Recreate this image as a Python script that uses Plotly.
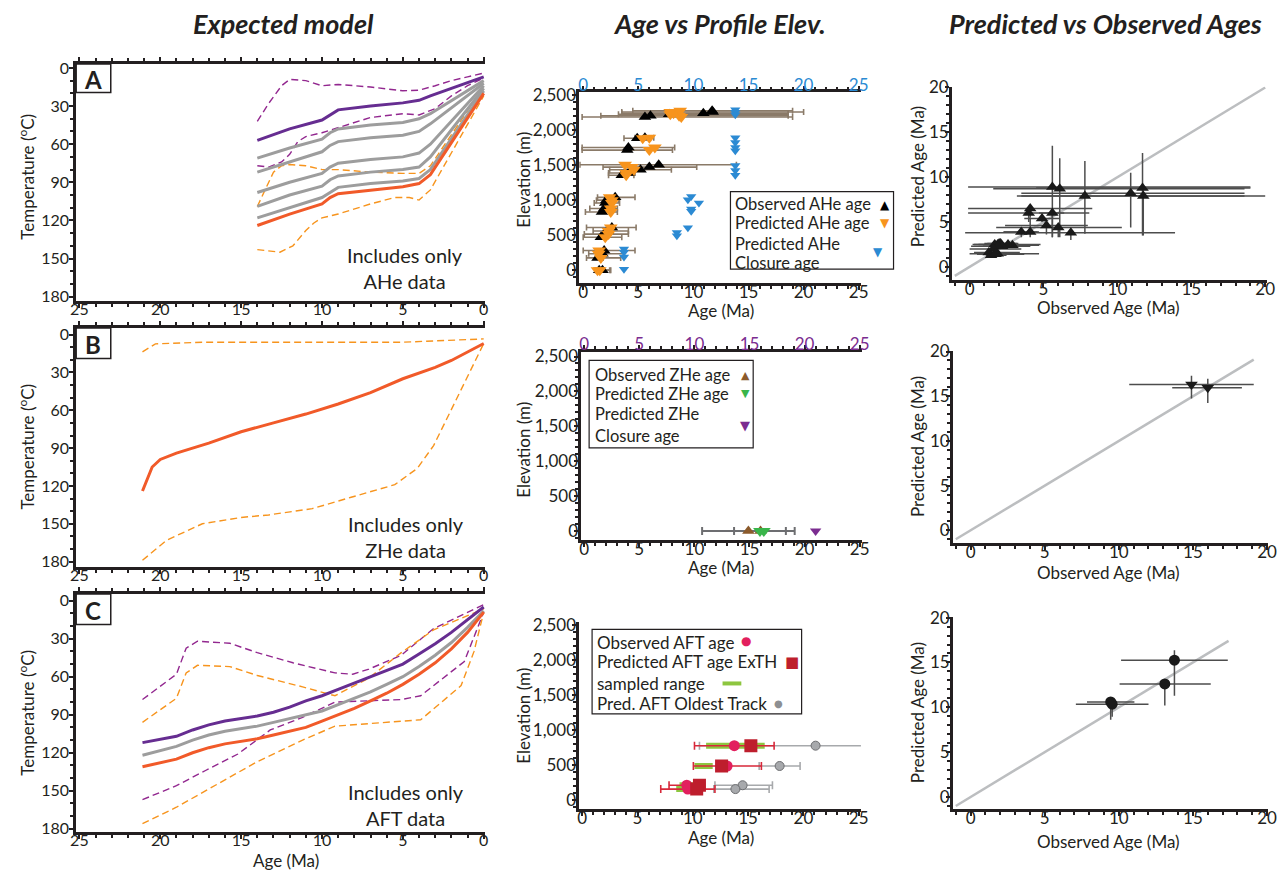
import plotly.graph_objects as go

W, H = 1287, 875
FONT = "Lato"
INK = "#231f20"

# ------------------------------------------------------------------ data
# Panel A (AHe only) thermal histories: age (Ma) -> temperature (degC)
a_age = [14, 12, 10, 9.5, 9, 7, 5, 4, 3.3, 0]
a_purple = [57, 48, 41, 37, 33, 30, 27.5, 25.5, 22, 7]
a_gray1 = [71, 63, 56, 51, 48, 45, 43, 40, 36, 10]
a_gray2 = [82, 74, 66, 61, 58, 55, 53, 50, 44, 12]
a_gray3 = [98, 90, 83, 78, 75, 72, 70, 67, 60, 14]
a_gray4 = [109, 100, 93, 88, 85, 82, 80, 78, 70, 16]
a_gray5 = [118, 110, 102, 98, 94, 91, 89, 87, 80, 18]
a_orange = [124, 115, 107, 102, 99, 96, 93.5, 91, 84, 20]
a_pdash_hi_age = [14, 13.3, 12.5, 12, 11, 10, 9, 7, 5, 4, 3, 2, 1, 0]
a_pdash_hi = [42, 28, 14, 9, 10, 14, 13, 15, 18, 17.5, 14, 10, 7, 4]
a_pdash_lo_age = [14, 13.3, 12.5, 12, 11.5, 11, 10, 9, 8, 7, 5, 4, 3, 2, 1, 0]
a_pdash_lo = [77, 78, 74, 68, 58, 54, 51, 47, 43, 39, 36, 37, 32, 22, 14, 8]
a_odash_hi_age = [14, 13.5, 13, 12.5, 12, 11, 10, 9, 7, 5, 4, 3.3, 0]
a_odash_hi = [109, 95, 82, 77, 76, 77, 80, 80, 82, 83, 83, 77, 15]
a_odash_lo_age = [14, 12.6, 11.8, 11, 10.5, 10, 9, 7, 5.5, 4.6, 4, 3.3, 0]
a_odash_lo = [143, 145, 140, 128, 122, 118, 115, 107, 102, 102, 104, 96, 22]

# Panel B (ZHe only)
b_age = [21.1, 20.5, 20, 19, 17, 15, 13, 11, 9, 7, 5, 3, 2, 1, 0]
b_orange = [124, 105, 99, 94, 86, 77, 70, 63, 55, 46, 35, 26, 20.5, 14, 7]
b_odash_hi_age = [21.1, 20.3, 17.4, 5, 0]
b_odash_hi = [13.7, 7.3, 6, 6, 3.4]
b_odash_lo_age = [21.1, 19.6, 17.4, 15, 13.3, 10.6, 8.2, 5.5, 4.1, 3.1, 2.1, 1.1, 0]
b_odash_lo = [179, 163, 150, 145, 143, 138, 129, 119, 106, 88, 62, 36, 7]

# Panel C (AFT only)
c_age = [21.1, 19, 18, 17, 16, 15, 14, 13, 12, 11, 10, 9, 8, 7, 6, 5, 4, 3, 2, 1, 0]
c_purple = [112, 107, 102, 98, 95, 93, 91, 88, 84, 79, 75, 70, 65, 60, 55, 50, 42, 34, 25, 15, 5]
c_gray = [122, 115, 110, 106, 103, 101, 99, 96, 93, 90, 87, 82, 77, 72, 66, 60, 52, 43, 33, 21, 8]
c_orange = [131, 125, 120, 116, 113, 111, 109, 106, 103, 100, 95, 90, 85, 79, 73, 66, 58, 49, 38, 25, 9]
c_pdash_hi_age = [21.1, 19, 18.4, 17.7, 15.7, 14, 11.8, 9.2, 8.1, 7.1, 5.1, 3.1, 0]
c_pdash_hi = [78, 58, 37.5, 32, 33.6, 41, 49, 57, 58, 54, 43, 22, 3]
c_pdash_lo_age = [21.1, 19, 17.2, 15.2, 13.2, 11.2, 9.2, 7.1, 5.1, 3.9, 1.2, 0]
c_pdash_lo = [157, 146, 134, 121, 102, 92, 80, 79, 78, 75, 48, 9]
c_odash_hi_age = [21.1, 19, 18.4, 17.7, 15.7, 14, 11.2, 9.2, 7.1, 5.1, 3.1, 0]
c_odash_hi = [96, 77, 57, 51, 52, 59, 68, 75, 61, 41, 23, 6.5]
c_odash_lo_age = [21.1, 19, 16.5, 14, 11.2, 9.2, 7.1, 3.9, 1.4, 0.6, 0]
c_odash_lo = [176, 163, 145, 127, 110, 99, 97, 94, 67, 40, 9]

# AHe samples
ahe_elev = [2187, 2205, 2226, 2240, 2276, 2260, 1752, 1715, 1892, 1883, 1505, 1472, 1435, 1388, 1355,
            1040, 1000, 960, 880, 830, 610, 560, 515, 470, 280, 235, 175, 0, 0]
ahe_obs = [5.6, 6.1, 7.8, 10.9, 11.7, 11.75, 4.1, 4.0, 5.6, 4.9, 6.85, 6.0, 5.2, 4.1, 3.5,
           2.9, 2.1, 2.0, 1.9, 1.7, 2.6, 2.2, 1.9, 1.6, 1.9, 1.75, 1.3, 1.45, 1.75]
ahe_obs_lo = [-0.1, 1.6, 3.2, 3.5, 4.5, 3.5, -0.1, -0.1, 4.7, 3.7, -0.3, 1.8, 2.4, 2.3, 2.3,
              1.3, 1.2, 1.0, 0.6, 0.2, 0.3, 0.9, 0.1, 0.0, 0.0, 0.5, 0.3, 1.1, 1.2]
ahe_obs_hi = [19.0, 18.6, 18.6, 18.6, 19.0, 20.0, 8.3, 8.1, 6.4, 6.1, 13.9, 10.3, 8.0, 4.7, 4.6,
              4.7, 3.2, 3.3, 3.1, 3.1, 4.8, 4.1, 4.1, 3.5, 4.7, 3.7, 3.4, 2.5, 2.4]
ahe_pred = [8.9, 8.7, 7.9, 8.2, 8.8, 7.9, 6.5, 6.0, 6.0, 5.4, 3.8, 4.4, 4.6, 3.9, 3.9,
            2.4, 2.6, 2.6, 2.5, 2.5, 2.5, 2.3, 2.3, 2.0, 1.45, 1.4, 1.6, 1.3, 1.5]
ahe_pred_lo = [3.3, 3.3, 3.7, 4.4, 3.5, 3.5, 5.5, 5.0, 3.3, 5.0, 3.0, 3.3, 3.6, 3.3, 3.3,
               2.4, 2.6, 2.6, 2.5, 2.5, 2.5, 2.3, 2.3, 2.0, 1.45, 1.4, 1.6, 1.3, 1.5]
ahe_pred_hi = [13.5, 12.1, 11.8, 10.5, 12.7, 8.5, 6.8, 6.5, 6.0, 5.8, 3.8, 4.4, 4.6, 5.5, 3.9,
               2.4, 2.6, 2.6, 2.5, 2.5, 2.5, 2.3, 2.3, 2.0, 1.45, 1.4, 1.6, 1.3, 1.5]
ahe_closure_age = [13.8, 13.8, 13.8, 13.8, 13.8, 13.8, 13.8, 13.8, 13.8, 13.8,
                   9.8, 9.5, 10.5, 9.8, 9.8, 9.5, 8.5, 8.5, 3.7, 3.7, 3.7, 3.7]
ahe_closure_elev = [2290, 2255, 2220, 1892, 1822, 1752, 1705, 1495, 1425, 1355,
                    1051, 1005, 958, 874, 841, 607, 537, 491, 304, 257, 187, 14]

# ZHe samples
zhe_elev = [0, 0]
zhe_obs = [14.9, 16.0]
zhe_obs_lo = [10.7, 13.6]
zhe_obs_hi = [19.1, 18.3]
zhe_pred = [16.3, 15.95]
zhe_pred_lo = [14.75, 14.25]
zhe_pred_hi = [17.3, 16.95]
zhe_closure_age = [21.0]
zhe_closure_elev = [0]

# AFT samples
aft_elev = [770, 480, 205, 150]
aft_obs = [13.75, 13.1, 9.45, 9.55]
aft_obs_lo = [10.15, 10.05, 7.85, 7.1]
aft_obs_hi = [17.35, 16.2, 11.05, 12.0]
aft_pred = [15.25, 12.6, 10.6, 10.35]
aft_pred_lo = [11.3, 10.2, 8.6, 8.95]
aft_pred_hi = [16.35, 12.6, 10.6, 10.35]
aft_range_lo = [11.2, 10.15, 8.8, 8.5]
aft_range_hi = [16.5, 11.8, 10.9, 10.5]
aft_oldest = [21.1, 17.85, 14.5, 13.85]
aft_oldest_lo = [10.6, 16.0, 12.0, 11.9]
aft_oldest_hi = [25.8, 19.7, 17.2, 16.9]

one_to_one_A = [-1, 20]
one_to_one_B = [-1, 19.1]
one_to_one_C = [-1, 17.4]

# ------------------------------------------------------------------ colours
PURPLE = "#662d91"
PURPLE_D = "#92278f"
GRAY = "#9d9d9d"
RED_OR = "#f15a29"
ORANGE = "#f7941d"
BLUE = "#2b8ad3"
BROWN = "#8b5a2b"
GREEN_Z = "#39b54a"
VIOLET = "#7b2c90"
CRIMSON = "#e21f5e"
DKRED = "#be1e2d"
LIME = "#8dc63f"
ERR = "#4d4d4d"

fig = go.Figure()


def line(x, y, color, width, xa, ya, dash=None):
    fig.add_trace(go.Scatter(x=x, y=y, mode="lines", xaxis=xa, yaxis=ya,
                             line=dict(color=color, width=width, dash=dash),
                             showlegend=False, hoverinfo="skip"))


DASH = "7px,4px"
# Left column
for xa, ya, curves in [
    ("x", "y", [(a_pdash_hi_age, a_pdash_hi, PURPLE_D, 1.4, DASH), (a_pdash_lo_age, a_pdash_lo, PURPLE_D, 1.4, DASH),
                (a_odash_hi_age, a_odash_hi, ORANGE, 1.4, DASH), (a_odash_lo_age, a_odash_lo, ORANGE, 1.4, DASH),
                (a_age, a_gray1, GRAY, 3, None), (a_age, a_gray2, GRAY, 3, None), (a_age, a_gray3, GRAY, 3, None),
                (a_age, a_gray4, GRAY, 3, None), (a_age, a_gray5, GRAY, 3, None),
                (a_age, a_purple, PURPLE, 3, None), (a_age, a_orange, RED_OR, 3, None)]),
    ("x2", "y2", [(b_odash_hi_age, b_odash_hi, ORANGE, 1.4, DASH), (b_odash_lo_age, b_odash_lo, ORANGE, 1.4, DASH),
                  (b_age, b_orange, RED_OR, 3, None)]),
    ("x3", "y3", [(c_pdash_hi_age, c_pdash_hi, PURPLE_D, 1.4, DASH), (c_pdash_lo_age, c_pdash_lo, PURPLE_D, 1.4, DASH),
                  (c_odash_hi_age, c_odash_hi, ORANGE, 1.4, DASH), (c_odash_lo_age, c_odash_lo, ORANGE, 1.4, DASH),
                  (c_age, c_gray, GRAY, 3, None), (c_age, c_purple, PURPLE, 3, None), (c_age, c_orange, RED_OR, 3, None)]),
]:
    for cx, cy, col, w, d in curves:
        line(cx, cy, col, w, xa, ya, d)


def err(lo, hi, val):
    return ([h - v for h, v in zip(hi, val)], [v - l for l, v in zip(lo, val)])


# Middle A
ep, em = err(ahe_obs_lo, ahe_obs_hi, ahe_obs)
fig.add_trace(go.Scatter(x=ahe_obs, y=ahe_elev, mode="markers", xaxis="x4", yaxis="y4",
                         marker=dict(symbol="triangle-up", size=11, color="black"),
                         error_x=dict(type="data", array=ep, arrayminus=em, color="#8a7a68", thickness=1.6, width=3),
                         showlegend=False, hoverinfo="skip"))
fig.add_trace(go.Scatter(x=ahe_pred, y=ahe_elev, mode="markers", xaxis="x4", yaxis="y4",
                         marker=dict(symbol="triangle-down", size=12, color=ORANGE),
                         showlegend=False, hoverinfo="skip"))
fig.add_trace(go.Scatter(x=ahe_closure_age, y=ahe_closure_elev, mode="markers", xaxis="x10", yaxis="y4",
                         marker=dict(symbol="triangle-down", size=9, color=BLUE),
                         showlegend=False, hoverinfo="skip"))

# Middle B
ep, em = err(zhe_obs_lo, zhe_obs_hi, zhe_obs)
fig.add_trace(go.Scatter(x=zhe_obs, y=zhe_elev, mode="markers", xaxis="x5", yaxis="y5",
                         marker=dict(symbol="triangle-up", size=11, color=BROWN),
                         error_x=dict(type="data", array=ep, arrayminus=em, color="#6d6e71", thickness=2, width=4),
                         showlegend=False, hoverinfo="skip"))
fig.add_trace(go.Scatter(x=zhe_pred, y=zhe_elev, mode="markers", xaxis="x5", yaxis="y5",
                         marker=dict(symbol="triangle-down", size=12, color=GREEN_Z),
                         showlegend=False, hoverinfo="skip"))
fig.add_trace(go.Scatter(x=zhe_closure_age, y=zhe_closure_elev, mode="markers", xaxis="x11", yaxis="y5",
                         marker=dict(symbol="triangle-down", size=10, color=VIOLET),
                         showlegend=False, hoverinfo="skip"))

# Middle C
ep, em = err(aft_oldest_lo, aft_oldest_hi, aft_oldest)
fig.add_trace(go.Scatter(x=aft_oldest, y=aft_elev, mode="markers", xaxis="x6", yaxis="y6",
                         marker=dict(symbol="circle", size=9, color="#a7a9ac", line=dict(color="#6d6e71", width=1)),
                         error_x=dict(type="data", array=ep, arrayminus=em, color="#a7a9ac", thickness=1.6, width=4),
                         showlegend=False, hoverinfo="skip"))
rx, ry = [], []
for lo, hi, e in zip(aft_range_lo, aft_range_hi, aft_elev):
    rx += [lo, hi, None]
    ry += [e, e, None]
fig.add_trace(go.Scatter(x=rx, y=ry, mode="lines", xaxis="x6", yaxis="y6",
                         line=dict(color=LIME, width=6), showlegend=False, hoverinfo="skip"))
ep, em = err(aft_obs_lo, aft_obs_hi, aft_obs)
fig.add_trace(go.Scatter(x=aft_obs, y=aft_elev, mode="markers", xaxis="x6", yaxis="y6",
                         marker=dict(symbol="circle", size=11, color=CRIMSON),
                         error_x=dict(type="data", array=ep, arrayminus=em, color="#d7283a", thickness=1.6, width=4),
                         showlegend=False, hoverinfo="skip"))
fig.add_trace(go.Scatter(x=aft_pred, y=aft_elev, mode="markers", xaxis="x6", yaxis="y6",
                         marker=dict(symbol="square", size=13, color=DKRED),
                         showlegend=False, hoverinfo="skip"))

# Right column
line(one_to_one_A, one_to_one_A, "#bcbec0", 2.5, "x7", "y7")
line(one_to_one_B, one_to_one_B, "#bcbec0", 2.5, "x8", "y8")
line(one_to_one_C, one_to_one_C, "#bcbec0", 2.5, "x9", "y9")


def pvo(obs, olo, ohi, pred, plo, phi, sym, xa, ya):
    ex_p, ex_m = err(olo, ohi, obs)
    ey_p, ey_m = err(plo, phi, pred)
    fig.add_trace(go.Scatter(x=obs, y=pred, mode="markers", xaxis=xa, yaxis=ya,
                             marker=dict(symbol=sym, size=11, color="#1a1a1a"),
                             error_x=dict(type="data", array=ex_p, arrayminus=ex_m, color=ERR, thickness=1.5, width=0),
                             error_y=dict(type="data", array=ey_p, arrayminus=ey_m, color=ERR, thickness=1.5, width=0),
                             showlegend=False, hoverinfo="skip"))


pvo(ahe_obs, ahe_obs_lo, ahe_obs_hi, ahe_pred, ahe_pred_lo, ahe_pred_hi, "triangle-up", "x7", "y7")
pvo(zhe_obs, zhe_obs_lo, zhe_obs_hi, zhe_pred, zhe_pred_lo, zhe_pred_hi, "triangle-down", "x8", "y8")
pvo(aft_obs, aft_obs_lo, aft_obs_hi, aft_pred, aft_pred_lo, aft_pred_hi, "circle", "x9", "y9")

# ------------------------------------------------------------------ axes


def dom_x(a, b):
    return [a / W, b / W]


def dom_y(top, bottom):
    return [1 - bottom / H, 1 - top / H]


def axis(domain, rng, dtick, mdtick, anchor, lw=3, labels=True, fmt=None, color=INK, size=16,
         standoff=-12, **kw):
    d = dict(domain=domain, range=rng, anchor=anchor, tick0=0, dtick=dtick,
             ticks="outside", ticklen=4, tickwidth=2, tickcolor=INK,
             showline=True, linewidth=lw, linecolor=INK, showgrid=False, zeroline=False,
             showticklabels=labels, tickfont=dict(family=FONT, size=size, color=color),
             ticklabelstandoff=standoff,
             minor=dict(tick0=0, dtick=mdtick, ticks="outside", ticklen=3, tickwidth=1.5,
                        tickcolor=INK, showgrid=False),
             fixedrange=True)
    if fmt:
        d["tickformat"] = fmt
    d.update(kw)
    return d


XS = -12   # x tick label standoff
YS = -7    # y tick label standoff
LYS = -3   # left-column y tick label standoff
LX = dom_x(71, 485)
lay = {}
lay["xaxis"] = axis(LX, [25.2, -0.1], 5, 1, "y", standoff=XS, mirror="ticks")
lay["yaxis"] = axis(dom_y(55, 296), [183.1, -3.1], 30, 10, "x", standoff=LYS)
lay["xaxis2"] = axis(LX, [25.2, -0.1], 5, 1, "y2", standoff=XS, mirror="ticks")
lay["yaxis2"] = axis(dom_y(324, 567), [184, -5.2], 30, 10, "x2", standoff=LYS)
lay["xaxis3"] = axis(LX, [25.2, -0.1], 5, 1, "y3", standoff=XS, mirror="ticks")
lay["yaxis3"] = axis(dom_y(595, 837), [182.3, -5.2], 30, 10, "x3", standoff=LYS)

MS = 17
lay["xaxis4"] = axis(dom_x(580, 865), [-0.36, 25.2], 5, 1, "y4", lw=2.5, size=MS, standoff=XS)
lay["yaxis4"] = axis(dom_y(84, 278), [-182, 2538], 500, 100, "x4", lw=2.5, fmt=",", size=MS, standoff=YS)
lay["xaxis10"] = axis(dom_x(580, 865), [-0.36, 25.2], 5, 1, "y4", lw=2.5, color=BLUE, size=MS,
                      standoff=XS, overlaying="x4", side="top")
lay["xaxis5"] = axis(dom_x(582, 866), [-0.27, 25.2], 5, 1, "y5", lw=2.5, size=MS, standoff=XS)
lay["yaxis5"] = axis(dom_y(348, 540), [-131, 2570], 500, 100, "x5", lw=2.5, fmt=",", size=MS, standoff=YS)
lay["xaxis11"] = axis(dom_x(582, 866), [-0.27, 25.2], 5, 1, "y5", lw=2.5, color=VIOLET, size=MS,
                      standoff=XS, overlaying="x5", side="top")
lay["xaxis6"] = axis(dom_x(580, 865), [-0.27, 25.2], 5, 1, "y6", lw=2.5, size=MS, standoff=XS)
lay["yaxis6"] = axis(dom_y(623, 814), [-136, 2542], 500, 100, "x6", lw=2.5, fmt=",", size=MS, standoff=YS)
lay["xaxis12"] = axis(dom_x(580, 865), [-0.27, 25.2], 5, 1, "y6", lw=2.5, color="#939598", size=MS,
                      standoff=XS, overlaying="x6", side="top")

lay["xaxis7"] = axis(dom_x(957, 1276), [-1.2, 20.13], 5, 1, "y7", lw=2.5, size=MS, standoff=XS)
lay["yaxis7"] = axis(dom_y(78, 275), [-1.46, 20.1], 5, 1, "x7", lw=2.5, size=MS, standoff=YS)
lay["xaxis8"] = axis(dom_x(958, 1277), [-1.2, 20.07], 5, 1, "y8", lw=2.5, size=MS, standoff=XS)
lay["yaxis8"] = axis(dom_y(347, 543), [-1.43, 20.1], 5, 1, "x8", lw=2.5, size=MS, standoff=YS)
lay["xaxis9"] = axis(dom_x(958, 1277), [-1.2, 20.07], 5, 1, "y9", lw=2.5, size=MS, standoff=XS)
lay["yaxis9"] = axis(dom_y(618, 814), [-1.35, 20.1], 5, 1, "x9", lw=2.5, size=MS, standoff=YS)

# ------------------------------------------------------------------ text & decorations
ann = []
shapes = []


def text(s, px, py, size=16, angle=0, xanchor="center", yanchor="middle", color=INK, family=FONT):
    ann.append(dict(text=s, x=px / W, y=1 - py / H, xref="paper", yref="paper", showarrow=False,
                    xanchor=xanchor, yanchor=yanchor, textangle=angle, borderpad=0,
                    font=dict(family=family, size=size, color=color)))


def rect(x0, y0, x1, y1, lw=1.2):
    shapes.append(dict(type="rect", xref="paper", yref="paper", x0=x0 / W, x1=x1 / W,
                       y0=1 - y1 / H, y1=1 - y0 / H, line=dict(color=INK, width=lw),
                       fillcolor="white", layer="above"))


text("<b><i>Expected model</i></b>", 281, 14, size=27)
text("<b><i>Age vs Profile Elev.</i></b>", 722, 14, size=27)
text("<b><i>Predicted vs Observed Ages</i></b>", 1112, 14, size=27)

for lbl, y0, y1 in [("A", 55, 84), ("B", 324, 355), ("C", 595, 626)]:
    rect(71, y0, 106, y1, lw=1.5)
    text("<b>%s</b>" % lbl, 88.5, (y0 + y1) / 2 + 1, size=24)

for cy in [170, 445, 716]:
    text("Temperature (<sup>o</sup>C)", 21, cy, size=17, angle=-90)
    text("Elevation (m)", 524, cy + 3, size=17, angle=-90)
    text("Predicted Age (Ma)", 923, cy, size=17, angle=-90)

text("Age (Ma)", 283, 866, size=17)
for py in [306, 568, 843]:
    text("Age (Ma)", 723, py, size=17)
for py in [303, 573, 847]:
    text("Observed Age (Ma)", 1115, py, size=17)

text("Includes only<br>AHe data", 404, 263, size=20)
text("Includes only<br>ZHe data", 405, 537, size=20)
text("Includes only<br>AFT data", 405, 810, size=20)

# legend A
rect(733, 185, 898, 264)
for s, py in [("Observed AHe age", 198), ("Predicted AHe age", 217), ("Predicted AHe", 238), ("Closure age", 258)]:
    text(s, 737, py, size=16.5, xanchor="left")
text("▲", 889, 199, size=12, color="black", family="DejaVu Sans")
text("▼", 889, 217, size=12, color=ORANGE, family="DejaVu Sans")
text("▼", 882, 247, size=12, color=BLUE, family="DejaVu Sans")

# legend B
rect(590, 357, 756, 446)
for s, py in [("Observed ZHe age", 372), ("Predicted ZHe age", 391), ("Predicted ZHe", 412), ("Closure age", 434)]:
    text(s, 595, py, size=16.5, xanchor="left")
text("▲", 748, 372, size=11, color=BROWN, family="DejaVu Sans")
text("▼", 748, 391, size=11, color=GREEN_Z, family="DejaVu Sans")
text("▼", 748, 423, size=13, color=VIOLET, family="DejaVu Sans")

# legend C
rect(593, 631, 805, 717)
for s, py in [("Observed AFT age", 644), ("Predicted AFT age ExTH", 664), ("sampled range", 686),
              ("Pred. AFT Oldest Track", 706)]:
    text(s, 597, py, size=17, xanchor="left")
text("●", 749, 643, size=12, color=CRIMSON, family="DejaVu Sans")
text("■", 795, 664, size=15, color=DKRED, family="DejaVu Sans")
shapes.append(dict(type="line", xref="paper", yref="paper", x0=725 / W, x1=744 / W,
                   y0=1 - 686 / H, y1=1 - 686 / H, line=dict(color=LIME, width=4), layer="above"))
text("●", 782, 706, size=10, color="#8d8f92", family="DejaVu Sans")

fig.update_layout(width=W, height=H, autosize=False, margin=dict(l=0, r=0, t=0, b=0),
                  paper_bgcolor="white", plot_bgcolor="rgba(0,0,0,0)",
                  font=dict(family=FONT, color=INK), showlegend=False,
                  annotations=ann, shapes=shapes, **lay)

fig.write_html("out.html")
